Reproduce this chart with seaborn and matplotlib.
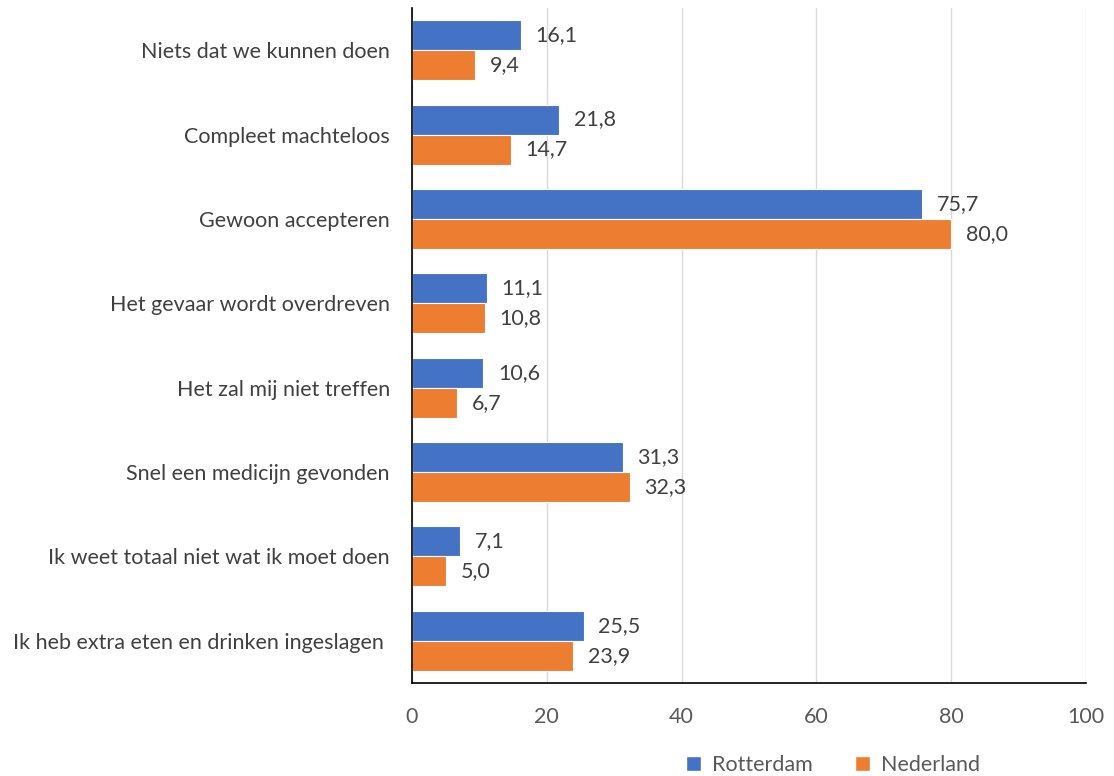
import matplotlib
matplotlib.use('Agg')
import matplotlib.pyplot as plt
from matplotlib.patches import Patch
import seaborn as sns
import pandas as pd

CATEGORIES = [
    'Niets dat we kunnen doen',
    'Compleet machteloos',
    'Gewoon accepteren',
    'Het gevaar wordt overdreven',
    'Het zal mij niet treffen',
    'Snel een medicijn gevonden',
    'Ik weet totaal niet wat ik moet doen',
    'Ik heb extra eten en drinken ingeslagen ',
]
ROTTERDAM = [16.1, 21.8, 75.7, 11.1, 10.6, 31.3, 7.1, 25.5]
NEDERLAND = [9.4, 14.7, 80.0, 10.8, 6.7, 32.3, 5.0, 23.9]
SERIES = ['Rotterdam', 'Nederland']
COLORS = ['#4472C4', '#ED7D31']
XTICKS = [0, 20, 40, 60, 80, 100]

FS = 15.5

df = pd.DataFrame({
    'categorie': CATEGORIES * 2,
    'waarde': ROTTERDAM + NEDERLAND,
    'reeks': [SERIES[0]] * len(CATEGORIES) + [SERIES[1]] * len(CATEGORIES),
})

sns.set_theme(style='white')
plt.rcParams['font.family'] = ['Lato', 'DejaVu Sans']

fig = plt.figure(figsize=(11.14, 7.76), dpi=100)
ax = fig.add_axes([412 / 1114, 1 - 683 / 776, (1086 - 412) / 1114, (683 - 8) / 776])

sns.barplot(
    data=df, y='categorie', x='waarde', hue='reeks',
    order=CATEGORIES, hue_order=SERIES, palette=COLORS,
    orient='h', width=0.71, dodge=True, saturation=1,
    edgecolor='white', linewidth=0.8, legend=False, ax=ax
)

for container in ax.containers:
    ax.bar_label(
        container,
        labels=[('%.1f' % v).replace('.', ',') for v in container.datavalues],
        padding=10.5, fontsize=FS, color='#404040'
    )

ax.set_xlim(0, 100)
ax.set_ylim(len(CATEGORIES) - 0.5, -0.5)
ax.set_xticks(XTICKS)
ax.set_xticklabels([str(t) for t in XTICKS])
ax.xaxis.grid(True, color='#D9D9D9', linewidth=1)
ax.set_axisbelow(True)
ax.set_xlabel('')
ax.set_ylabel('')
ax.tick_params(axis='x', labelsize=FS, labelcolor='#595959', length=0, pad=17)
ax.tick_params(axis='y', labelsize=FS, labelcolor='#404040', length=0, pad=16)

for side in ['top', 'right']:
    ax.spines[side].set_visible(False)
for side in ['left', 'bottom']:
    ax.spines[side].set_color('black')
    ax.spines[side].set_linewidth(1.2)

handles = [Patch(facecolor=c, label=s) for c, s in zip(COLORS, SERIES)]
fig.legend(
    handles=handles, loc='center', bbox_to_anchor=(833 / 1114, 1 - 765 / 776),
    ncol=2, frameon=False, fontsize=FS, labelcolor='#595959',
    handlelength=0.7, handleheight=0.7, handletextpad=0.5, columnspacing=2.0
)

fig.savefig('out.png', dpi=100)
